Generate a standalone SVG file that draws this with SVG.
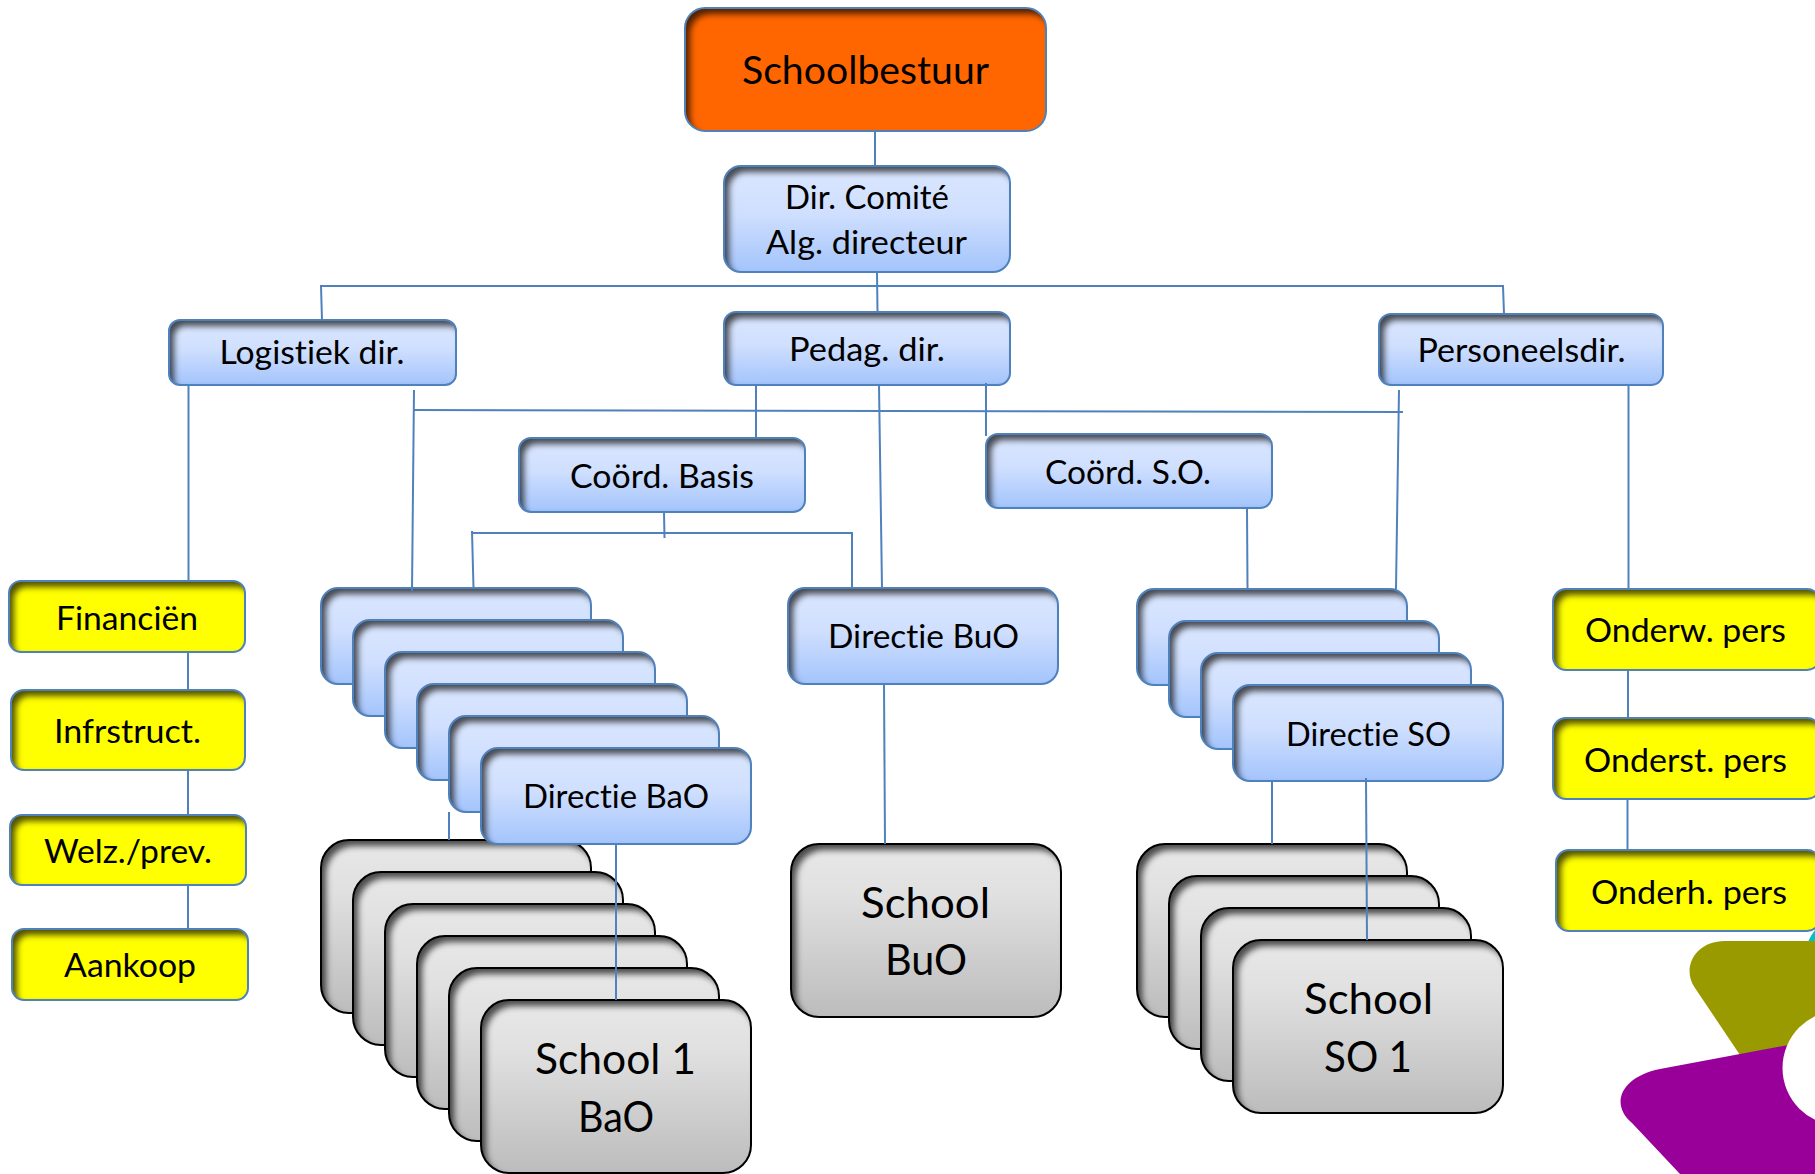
<svg xmlns="http://www.w3.org/2000/svg" width="1815" height="1174" viewBox="0 0 1815 1174">
<style>
text{font-family:"Lato","Liberation Sans",sans-serif;fill:#000;text-anchor:middle;font-variant-ligatures:none}
.t{font-size:33px}
.t0{font-size:38px}
.t2{font-size:42px}
.o{fill:#ff6600;filter:url(#inset)}
.b{fill:url(#blue);filter:url(#inset)}
.y{fill:#ffff00;filter:url(#inset)}
.g{fill:url(#gray);filter:url(#inset)}
.s{fill:none;stroke:#4f81bd;stroke-width:2}
.k{fill:none;stroke:#000;stroke-width:2}
#connectors path{fill:none;stroke:#4f81bd;stroke-width:2}
</style>
<defs>
<linearGradient id="blue" x1="0" y1="0" x2="0" y2="1"><stop offset="0" stop-color="#dbe7ff"/><stop offset=".45" stop-color="#cfdffe"/><stop offset="1" stop-color="#a3c4fc"/></linearGradient>
<linearGradient id="gray" x1="0" y1="0" x2="0" y2="1"><stop offset="0" stop-color="#e8e8e8"/><stop offset=".3" stop-color="#e0e0e0"/><stop offset="1" stop-color="#bcbcbc"/></linearGradient>
<filter id="inset" x="-5%" y="-5%" width="110%" height="110%" color-interpolation-filters="sRGB">
<feOffset in="SourceAlpha" dx="4.500" dy="5.500"/>
<feGaussianBlur stdDeviation="3.200" result="b"/>
<feComposite in="SourceAlpha" in2="b" operator="out" result="i"/>
<feFlood flood-color="#000" flood-opacity=".68"/>
<feComposite in2="i" operator="in" result="sh"/>
<feMerge><feMergeNode in="SourceGraphic"/><feMergeNode in="sh"/></feMerge>
</filter>
</defs>
<g id="logo">
<path d="M1808 942Q1811 935 1815 930V942Z" fill="#00c0c0"/>
<path d="M1815 941H1725C1695 941 1681 968 1695 988L1742 1058L1815 1060Z" fill="#999900"/>
<path d="M1815 1040L1660 1069C1620 1077 1610 1105 1632 1123L1680 1174H1815Z" fill="#990099"/>
<circle cx="1840" cy="1068" r="57.5" fill="#fff"/>
</g>
<g id="schoolbestuur"><rect class="o" x="685" y="8" width="361" height="123" rx="20"/><rect class="s" x="685" y="8" width="361" height="123" rx="20"/><text class="t0" x="865.5" y="84" textLength="247" lengthAdjust="spacingAndGlyphs">Schoolbestuur</text></g>
<g id="dir-comite"><rect class="b" x="724" y="166" width="286" height="106" rx="17"/><rect class="s" x="724" y="166" width="286" height="106" rx="17"/><text class="t" x="867" y="209" textLength="164" lengthAdjust="spacingAndGlyphs">Dir. Comité</text><text class="t" x="866.5" y="254" textLength="201" lengthAdjust="spacingAndGlyphs">Alg. directeur</text></g>
<g id="logistiek"><rect class="b" x="169" y="320" width="287" height="65" rx="11"/><rect class="s" x="169" y="320" width="287" height="65" rx="11"/><text class="t" x="312" y="364" textLength="185" lengthAdjust="spacingAndGlyphs">Logistiek dir.</text></g>
<g id="pedag"><rect class="b" x="724" y="312" width="286" height="73" rx="12"/><rect class="s" x="724" y="312" width="286" height="73" rx="12"/><text class="t" x="867" y="361" textLength="156" lengthAdjust="spacingAndGlyphs">Pedag. dir.</text></g>
<g id="personeel"><rect class="b" x="1379" y="314" width="284" height="71" rx="12"/><rect class="s" x="1379" y="314" width="284" height="71" rx="12"/><text class="t" x="1521.5" y="362" textLength="208" lengthAdjust="spacingAndGlyphs">Personeelsdir.</text></g>
<g id="coord-basis"><rect class="b" x="519" y="438" width="286" height="74" rx="12"/><rect class="s" x="519" y="438" width="286" height="74" rx="12"/><text class="t" x="662" y="488" textLength="184" lengthAdjust="spacingAndGlyphs">Coörd. Basis</text></g>
<g id="coord-so"><rect class="b" x="986" y="434" width="286" height="74" rx="12"/><rect class="s" x="986" y="434" width="286" height="74" rx="12"/><text class="t" x="1128" y="484" textLength="166" lengthAdjust="spacingAndGlyphs">Coörd. S.O.</text></g>
<g id="financien"><rect class="y" x="9" y="581" width="236" height="71" rx="12"/><rect class="s" x="9" y="581" width="236" height="71" rx="12"/><text class="t" x="127" y="630" textLength="142" lengthAdjust="spacingAndGlyphs">Financiën</text></g>
<g id="infrstruct"><rect class="y" x="11" y="690" width="234" height="80" rx="13"/><rect class="s" x="11" y="690" width="234" height="80" rx="13"/><text class="t" x="127.500" y="743" textLength="147" lengthAdjust="spacingAndGlyphs">Infrstruct.</text></g>
<g id="welz"><rect class="y" x="10" y="815" width="236" height="70" rx="12"/><rect class="s" x="10" y="815" width="236" height="70" rx="12"/><text class="t" x="128" y="863" textLength="168" lengthAdjust="spacingAndGlyphs">Welz./prev.</text></g>
<g id="aankoop"><rect class="y" x="12" y="929" width="236" height="71" rx="12"/><rect class="s" x="12" y="929" width="236" height="71" rx="12"/><text class="t" x="130" y="977" textLength="132" lengthAdjust="spacingAndGlyphs">Aankoop</text></g>
<g id="onderw"><rect class="y" x="1553" y="589" width="267" height="81" rx="13"/><rect class="s" x="1553" y="589" width="267" height="81" rx="13"/><text class="t" x="1685.500" y="642" textLength="201" lengthAdjust="spacingAndGlyphs">Onderw. pers</text></g>
<g id="onderst"><rect class="y" x="1553" y="718" width="267" height="81" rx="13"/><rect class="s" x="1553" y="718" width="267" height="81" rx="13"/><text class="t" x="1685.500" y="772" textLength="203" lengthAdjust="spacingAndGlyphs">Onderst. pers</text></g>
<g id="onderh"><rect class="y" x="1556" y="850" width="264" height="81" rx="13"/><rect class="s" x="1556" y="850" width="264" height="81" rx="13"/><text class="t" x="1689" y="904" textLength="196" lengthAdjust="spacingAndGlyphs">Onderh. pers</text></g>
<g id="school-bao">
<rect class="g" x="321" y="840" width="270" height="173" rx="28"/><rect class="k" x="321" y="840" width="270" height="173" rx="28"/>
<rect class="g" x="353" y="872" width="270" height="173" rx="28"/><rect class="k" x="353" y="872" width="270" height="173" rx="28"/>
<rect class="g" x="385" y="904" width="270" height="173" rx="28"/><rect class="k" x="385" y="904" width="270" height="173" rx="28"/>
<rect class="g" x="417" y="936" width="270" height="173" rx="28"/><rect class="k" x="417" y="936" width="270" height="173" rx="28"/>
<rect class="g" x="449" y="968" width="270" height="173" rx="28"/><rect class="k" x="449" y="968" width="270" height="173" rx="28"/>
<rect class="g" x="481" y="1000" width="270" height="173" rx="28"/><rect class="k" x="481" y="1000" width="270" height="173" rx="28"/>
<text class="t2" x="615.500" y="1074" textLength="161" lengthAdjust="spacingAndGlyphs">School 1</text><text class="t2" x="616" y="1132" textLength="76" lengthAdjust="spacingAndGlyphs">BaO</text>
</g>
<g id="directie-bao">
<rect class="b" x="321" y="588" width="270" height="96" rx="17"/><rect class="s" x="321" y="588" width="270" height="96" rx="17"/>
<rect class="b" x="353" y="620" width="270" height="96" rx="17"/><rect class="s" x="353" y="620" width="270" height="96" rx="17"/>
<rect class="b" x="385" y="652" width="270" height="96" rx="17"/><rect class="s" x="385" y="652" width="270" height="96" rx="17"/>
<rect class="b" x="417" y="684" width="270" height="96" rx="17"/><rect class="s" x="417" y="684" width="270" height="96" rx="17"/>
<rect class="b" x="449" y="716" width="270" height="96" rx="17"/><rect class="s" x="449" y="716" width="270" height="96" rx="17"/>
<rect class="b" x="481" y="748" width="270" height="96" rx="17"/><rect class="s" x="481" y="748" width="270" height="96" rx="17"/>
<text class="t" x="616" y="808" textLength="186" lengthAdjust="spacingAndGlyphs">Directie BaO</text>
</g>
<g id="directie-buo"><rect class="b" x="788" y="588" width="270" height="96" rx="17"/><rect class="s" x="788" y="588" width="270" height="96" rx="17"/><text class="t" x="923.500" y="648" textLength="191" lengthAdjust="spacingAndGlyphs">Directie BuO</text></g>
<g id="school-buo"><rect class="g" x="791" y="844" width="270" height="173" rx="28"/><rect class="k" x="791" y="844" width="270" height="173" rx="28"/><text class="t2" x="925.500" y="918" textLength="129" lengthAdjust="spacingAndGlyphs">School</text><text class="t2" x="926" y="975" textLength="82" lengthAdjust="spacingAndGlyphs">BuO</text></g>
<g id="school-so">
<rect class="g" x="1137" y="844" width="270" height="173" rx="28"/><rect class="k" x="1137" y="844" width="270" height="173" rx="28"/>
<rect class="g" x="1169" y="876" width="270" height="173" rx="28"/><rect class="k" x="1169" y="876" width="270" height="173" rx="28"/>
<rect class="g" x="1201" y="908" width="270" height="173" rx="28"/><rect class="k" x="1201" y="908" width="270" height="173" rx="28"/>
<rect class="g" x="1233" y="940" width="270" height="173" rx="28"/><rect class="k" x="1233" y="940" width="270" height="173" rx="28"/>
<text class="t2" x="1368.500" y="1014" textLength="129" lengthAdjust="spacingAndGlyphs">School</text><text class="t2" x="1368" y="1072" textLength="88" lengthAdjust="spacingAndGlyphs">SO 1</text>
</g>
<g id="directie-so">
<rect class="b" x="1137" y="589" width="270" height="96" rx="17"/><rect class="s" x="1137" y="589" width="270" height="96" rx="17"/>
<rect class="b" x="1169" y="621" width="270" height="96" rx="17"/><rect class="s" x="1169" y="621" width="270" height="96" rx="17"/>
<rect class="b" x="1201" y="653" width="270" height="96" rx="17"/><rect class="s" x="1201" y="653" width="270" height="96" rx="17"/>
<rect class="b" x="1233" y="685" width="270" height="96" rx="17"/><rect class="s" x="1233" y="685" width="270" height="96" rx="17"/>
<text class="t" x="1368.500" y="746" textLength="165" lengthAdjust="spacingAndGlyphs">Directie SO</text>
</g>
<g id="connectors">
<path d="M875 131L875 166"/>
<path d="M877 272L877.500 312"/>
<path d="M322 320L321 286L1503 286L1504 314"/>
<path d="M188.500 385V581"/>
<path d="M188 652V690"/>
<path d="M188 770V815"/>
<path d="M188 885V929"/>
<path d="M414 390L412 591"/>
<path d="M413 410L1403 412"/>
<path d="M756 385V438"/>
<path d="M986 383V436"/>
<path d="M664 512L664.500 538"/>
<path d="M472 531L473.500 588"/>
<path d="M472 533H852V588"/>
<path d="M879 385L882 588"/>
<path d="M1247 508L1247.500 589"/>
<path d="M1399 390L1396 589"/>
<path d="M1628.500 385V589"/>
<path d="M1628 670V718"/>
<path d="M1627.500 799V850"/>
<path d="M449 812V840"/>
<path d="M616 844V1000"/>
<path d="M884 684L885 844"/>
<path d="M1272 781V844"/>
<path d="M1366 778L1367 940"/>
</g>
</svg>
